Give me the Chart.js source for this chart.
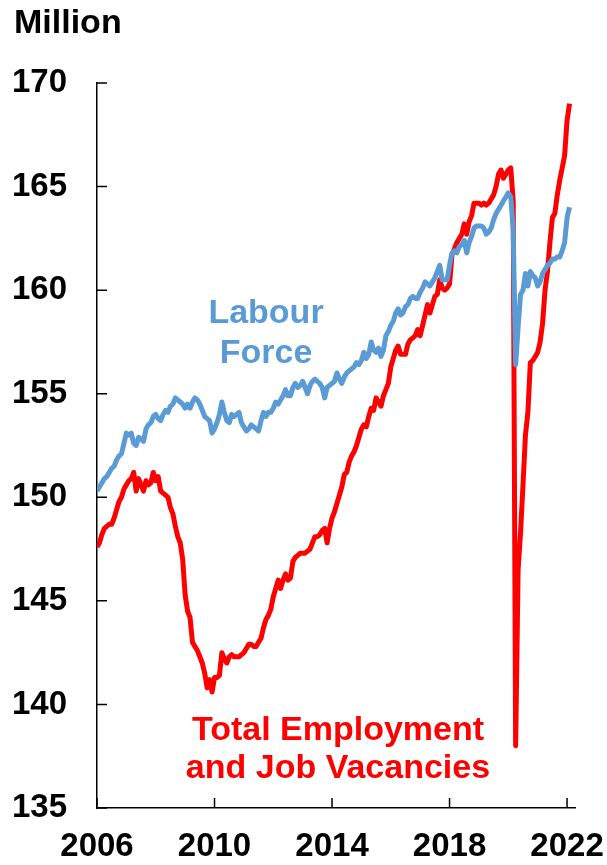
<!DOCTYPE html>
<html>
<head>
<meta charset="utf-8">
<title>Labour Force vs Total Employment and Job Vacancies</title>
<script src="https://cdn.jsdelivr.net/npm/chart.js@4.4.1/dist/chart.umd.min.js"></script>
<style>
  html, body { margin: 0; padding: 0; background: #fff; }
  .wrap { position: relative; width: 607px; height: 865px; }
</style>
</head>
<body>
<div class="wrap"><canvas id="jobsChart"></canvas></div>
<script>
// monthly data, Jan 2006 .. Feb 2022 (million)
const startYear = 2006;
const labourForce = [
  150.3,150.5,150.7,150.9,151.0,151.2,151.4,151.5,151.8,152.0,152.1,152.6, // 2006
  153.1,153.0,153.1,152.6,152.5,152.9,152.8,152.7,153.3,153.5,153.6,153.9, // 2007
  154.0,153.8,153.7,154.0,154.2,154.1,154.4,154.5,154.8,154.7,154.6,154.5, // 2008
  154.3,154.5,154.3,154.6,154.8,154.7,154.5,154.2,153.9,153.8,153.7,153.1, // 2009
  153.3,153.6,154.0,154.6,154.1,153.7,153.6,154.0,153.9,154.0,154.1,153.6, // 2010
  153.4,153.2,153.3,153.5,153.4,153.3,153.2,153.7,154.1,153.9,154.1,154.1, // 2011
  154.3,154.6,154.5,154.7,154.9,155.2,154.9,154.9,155.3,155.5,155.3,155.4, // 2012
  155.6,155.3,155.0,155.4,155.6,155.7,155.6,155.5,155.3,154.8,155.3,155.4, // 2013
  155.5,155.6,156.0,155.7,155.5,155.8,156.0,156.1,156.2,156.3,156.5,156.4, // 2014
  156.6,157.0,156.7,156.9,157.5,157.1,157.0,157.2,156.8,157.1,157.8,158.0, // 2015
  158.3,158.5,158.9,159.1,158.8,158.9,159.2,159.3,159.6,159.7,159.6,159.6, // 2016
  159.9,160.1,160.4,160.3,160.2,160.4,160.6,160.9,161.2,160.5,160.5,160.5, // 2017
  161.2,161.8,161.9,161.8,162.1,162.2,162.4,161.8,162.3,162.6,163.0,163.1, // 2018
  163.1,163.1,163.0,162.7,162.8,163.0,163.4,163.7,163.9,164.1,164.3,164.5, // 2019
  164.7,164.5,162.9,156.4,158.2,159.8,160.0,160.8,160.2,160.9,160.7,160.6, // 2020
  160.2,160.4,160.8,161.0,161.2,161.3,161.5,161.5,161.6,161.6,161.9,162.3, // 2021
  163.5,164.0                                                              // 2022
];
const employmentVacancies = [
  147.6,147.8,148.2,148.5,148.6,148.7,148.7,149.0,149.4,149.8,150.0,150.4, // 2006
  150.6,150.8,150.9,151.2,150.3,150.9,150.6,150.3,150.8,150.6,150.7,151.2, // 2007
  150.8,151.0,150.3,150.2,150.1,150.0,149.5,149.2,148.6,148.1,147.8,147.0, // 2008
  145.3,144.5,144.2,143.0,142.8,142.6,142.3,142.0,141.5,140.8,141.2,140.6, // 2009
  141.3,141.3,141.4,142.5,142.2,142.0,142.3,142.4,142.3,142.3,142.3,142.4, // 2010
  142.5,142.7,142.9,142.9,142.8,142.8,143.0,143.2,143.7,144.1,144.3,144.6, // 2011
  145.2,145.6,146.0,145.6,146.0,146.3,146.0,146.1,146.9,147.1,147.2,147.3, // 2012
  147.3,147.3,147.4,147.5,147.8,148.1,148.1,148.2,148.4,148.5,147.8,148.5, // 2013
  149.0,149.3,149.7,150.1,150.5,151.1,151.2,151.7,152.0,152.2,152.5,152.9, // 2014
  153.3,153.5,153.4,153.9,154.3,154.2,154.8,154.6,154.4,154.9,155.2,155.5, // 2015
  156.3,156.7,157.1,157.3,156.9,156.9,156.9,157.4,157.6,157.7,157.8,158.1, // 2016
  157.8,158.3,158.8,159.3,158.9,159.3,159.7,159.8,160.5,160.1,160.0,160.1, // 2017
  160.3,161.7,162.0,162.3,162.5,162.7,163.2,162.7,163.3,163.6,164.2,164.2, // 2018
  164.2,164.1,164.2,164.1,164.2,164.4,164.6,165.0,165.6,165.8,165.4,165.6, // 2019
  165.8,165.9,164.3,138.0,146.5,148.3,150.6,153.0,154.1,156.5,156.6,156.8, // 2020
  157.0,157.5,158.4,160.0,160.9,162.3,163.5,163.7,164.6,165.3,165.9,166.5, // 2021
  168.2,169.0                                                              // 2022
];
const yearTicks = [2006, 2010, 2014, 2018, 2022];
const valueTicks = [135, 140, 145, 150, 155, 160, 165, 170];

const FONT = "'Liberation Sans', Arial, sans-serif";
const BLUE = '#5B9BD5';
const RED = '#FF0000';

function toPoints(values){
  return values.map((v, i) => ({ x: startYear + i / 12, y: v }));
}

// inward tick marks + text labels drawn on the canvas
const extras = {
  id: 'extras',
  beforeDatasetsDraw(chart){
    const { ctx, chartArea: a, scales: { x, y } } = chart;
    ctx.save();
    ctx.strokeStyle = '#000';
    ctx.lineWidth = 1.5;
    ctx.beginPath();
    yearTicks.forEach(t => {
      const px = x.getPixelForValue(t);
      ctx.moveTo(px, a.bottom);
      ctx.lineTo(px, a.bottom - 10);
    });
    valueTicks.forEach(t => {
      const py = y.getPixelForValue(t);
      ctx.moveTo(a.left, py);
      ctx.lineTo(a.left + 10, py);
    });
    ctx.stroke();
    ctx.restore();
  },
  afterDraw(chart){
    const { ctx } = chart;
    ctx.save();
    ctx.textBaseline = 'alphabetic';
    ctx.font = 'bold 34px ' + FONT;
    ctx.fillStyle = '#000';
    ctx.textAlign = 'left';
    ctx.fillText('Million', 14, 33);

    ctx.textAlign = 'center';
    ctx.fillStyle = BLUE;
    ctx.fillText('Labour', 266, 323);
    ctx.fillText('Force', 266, 363);

    ctx.fillStyle = RED;
    ctx.fillText('Total Employment', 338, 740);
    ctx.fillText('and Job Vacancies', 338, 778);
    ctx.restore();
  }
};

document.addEventListener('DOMContentLoaded', function(){
  const ctx = document.getElementById('jobsChart');
  new Chart(ctx.getContext('2d'), {
    type: 'line',
    data: {
      datasets: [
        {
          label: 'Labour Force',
          data: toPoints(labourForce),
          borderColor: BLUE,
          borderWidth: 5,
          pointRadius: 0,
          tension: 0,
          borderJoinStyle: 'round'
        },
        {
          label: 'Total Employment and Job Vacancies',
          data: toPoints(employmentVacancies),
          borderColor: RED,
          borderWidth: 5,
          pointRadius: 0,
          tension: 0,
          borderJoinStyle: 'round'
        }
      ]
    },
    options: {
      responsive: true,
      maintainAspectRatio: false,
      animation: false,
      layout: { padding: { top: 83, right: 32, bottom: 0, left: 0 } },
      plugins: {
        legend: { display: false },
        title: { display: false },
        tooltip: { enabled: false }
      },
      scales: {
        x: {
          type: 'linear',
          min: 2006,
          max: 2022.27,
          afterBuildTicks: s => { s.ticks = yearTicks.map(v => ({ value: v })); },
          afterFit: s => { s.height = 57; s.paddingLeft = 0; s.paddingRight = 0; },
          grid: { display: true, drawOnChartArea: false, drawTicks: false },
          border: { display: true, color: '#000', width: 1.5 },
          ticks: {
            color: '#000',
            padding: 19,
            maxRotation: 0,
            autoSkip: false,
            font: { family: FONT, size: 33, weight: 'bold' },
            callback: v => String(v)
          }
        },
        y: {
          min: 135,
          max: 170,
          afterBuildTicks: s => { s.ticks = valueTicks.map(v => ({ value: v })); },
          afterFit: s => { s.width = 97; s.paddingTop = 0; s.paddingBottom = 0; },
          grid: { display: true, drawOnChartArea: false, drawTicks: false },
          border: { display: true, color: '#000', width: 1.5 },
          ticks: {
            color: '#000',
            padding: 30,
            font: { family: FONT, size: 33, weight: 'bold' }
          }
        }
      }
    },
    plugins: [extras]
  });
});
</script>
</body>
</html>
